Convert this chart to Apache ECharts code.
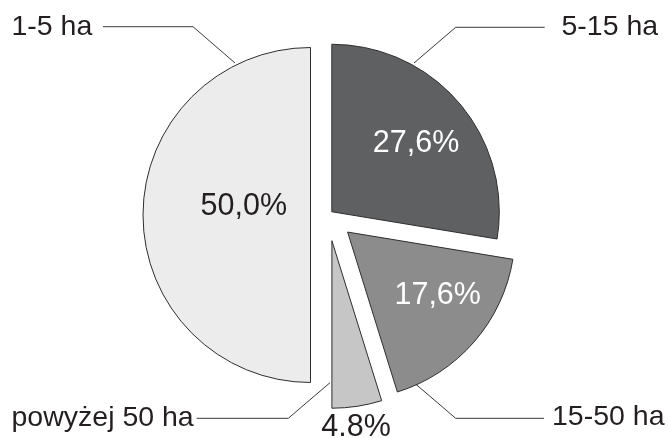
<!DOCTYPE html>
<html>
<head>
<meta charset="utf-8">
<script src="https://cdn.jsdelivr.net/npm/echarts@6/dist/echarts.min.js"></script>
<style>
html,body{margin:0;padding:0;background:#fff;}
#c{width:668px;height:438px;}
</style>
</head>
<body>
<div id="c"></div>
<script>
// ---- data ----
const categories = ['5-15 ha', '15-50 ha', 'powyżej 50 ha', '1-5 ha'];
const shares = [27.6, 17.6, 4.8, 50.0];
const shareLabels = ['27,6%', '17,6%', '4.8%', '50,0%'];

// ---- style / layout ----
const fills = ['#5f6062', '#8c8c8c', '#c6c6c6', '#ececec'];
const pctColors = ['#ffffff', '#ffffff', '#231f20', '#231f20'];
const explode = [5, 26, 26, 17.5];          // per-slice explosion distance (px)
const baseCenter = [328, 215];
const R = 167.5;
const FONT = 'Liberation Sans, Arial, sans-serif';
// percentage label offset from the slice's own vertex
const pctOffset = [[84.2, -67.8], [90.1, 63.4], [24.1, 187.3], [-66.7, -8]];
// category label placement and leader lines
const nameLayout = [
  { x: 561.5, y: 27,    line: [[414, 63],    [455.7, 27.3],  [544.7, 27.3]] },
  { x: 552,   y: 417.5, line: [[414, 382.7], [455.7, 418.3], [544, 418.3]] },
  { x: 11.5,  y: 418.5, line: [[330, 382.7], [288.3, 418.3], [196.7, 418.3]] },
  { x: 11.5,  y: 27,    line: [[235, 63],    [193, 26.7],    [103, 26.7]] }
];

const total = shares.reduce((a, b) => a + b, 0);
let acc = 0;
const mids = shares.map(v => { const m = (acc + v / 2) / total * 360; acc += v; return m; });
const sliceCenters = mids.map((m, i) => {
  const a = m * Math.PI / 180;
  return [baseCenter[0] + explode[i] * Math.sin(a), baseCenter[1] - explode[i] * Math.cos(a)];
});

const transparentItem = { color: 'rgba(0,0,0,0)', borderWidth: 0 };

const sliceSeries = categories.map((name, i) => ({
  type: 'pie',
  center: sliceCenters[i],
  radius: [0, R],
  startAngle: 90,
  clockwise: true,
  silent: true,
  animation: false,
  avoidLabelOverlap: false,
  selectedMode: false,
  emphasis: { disabled: true },
  label: { show: false },
  labelLine: { show: false },
  data: categories.map((n, j) => j === i ? {
    name: n, value: shares[j],
    itemStyle: { color: fills[j], borderColor: '#2e2e2e', borderWidth: 1 },
    label: { show: true, position: 'inside', formatter: shareLabels[j], color: pctColors[j],
             fontSize: 30.5, fontFamily: FONT }
  } : {
    name: n, value: shares[j], itemStyle: transparentItem, label: { show: false }
  }),
  labelLayout: p => p.dataIndex === i ? {
    x: sliceCenters[i][0] + pctOffset[i][0],
    y: sliceCenters[i][1] + pctOffset[i][1],
    align: 'center', verticalAlign: 'middle'
  } : {}
}));

const nameSeries = {
  type: 'pie',
  center: baseCenter,
  radius: [0, R],
  startAngle: 90,
  clockwise: true,
  silent: true,
  animation: false,
  avoidLabelOverlap: false,
  selectedMode: false,
  emphasis: { disabled: true },
  itemStyle: transparentItem,
  label: { show: true, position: 'outside', formatter: '{b}', color: '#231f20',
           fontSize: 28.5, fontFamily: FONT },
  labelLine: { show: true, length: 10, length2: 10, lineStyle: { color: '#3a3a3a', width: 1 } },
  data: categories.map((n, j) => ({ name: n, value: shares[j] })),
  labelLayout: p => {
    const L = nameLayout[p.dataIndex];
    return { x: L.x, y: L.y, align: 'left', verticalAlign: 'middle', labelLinePoints: L.line };
  }
};

const chart = echarts.init(document.getElementById('c'), null, { renderer: 'canvas' });
chart.setOption({
  backgroundColor: '#ffffff',
  animation: false,
  series: sliceSeries.concat([nameSeries])
});
</script>
</body>
</html>
